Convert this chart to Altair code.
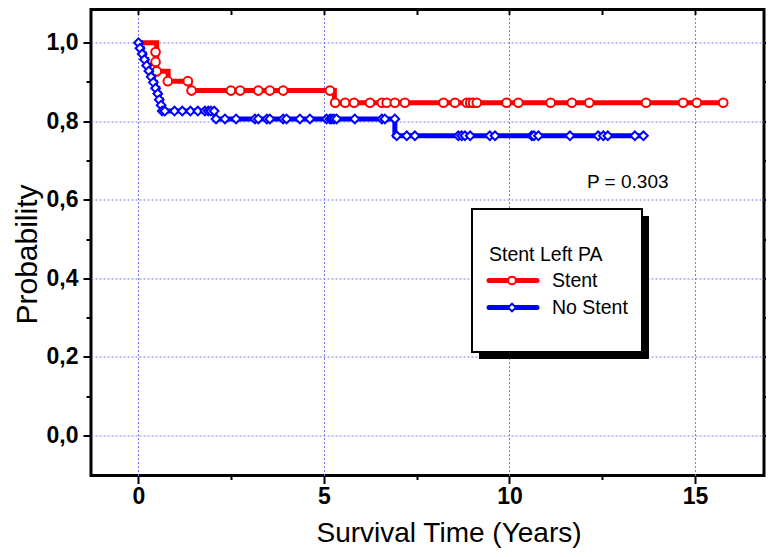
import altair as alt
import pandas as pd

# ---------------- data ----------------
series_names = ["Stent", "No Stent"]
series_colors = ["#ff0000", "#0000ff"]
legend_title = "Stent Left PA"
p_value_text = "P = 0.303"
x_title = "Survival Time (Years)"
y_title = "Probability"

# Kaplan-Meier step vertices (step-after)
stent_step_t = [0.0, 0.49, 0.80, 1.39, 5.28, 15.76]
stent_step_s = [1.0, 0.927, 0.902, 0.878, 0.847, 0.847]

# censor markers (Stent)
stent_mark_t = [0.46, 0.46, 0.49, 0.79, 1.33, 1.43, 2.49, 2.74, 3.23, 3.54, 3.90, 5.16,
                5.30, 5.57, 5.81, 6.24, 6.56, 6.69, 6.91, 7.18, 8.22, 8.53, 8.85, 8.94,
                9.02, 9.12, 9.92, 10.24, 11.11, 11.68, 12.15, 13.68, 14.68, 15.05, 15.76]
stent_mark_s = [0.976, 0.951, 0.927, 0.902, 0.902, 0.878, 0.878, 0.878, 0.878, 0.878, 0.878, 0.878,
                0.847, 0.847, 0.847, 0.847, 0.847, 0.847, 0.847, 0.847, 0.847, 0.847, 0.847, 0.847,
                0.847, 0.847, 0.847, 0.847, 0.847, 0.847, 0.847, 0.847, 0.847, 0.847, 0.847]

nostent_step_t = [0.0, 0.04, 0.10, 0.16, 0.22, 0.28, 0.34, 0.40, 0.46, 0.52, 0.56, 0.61, 0.64,
                  2.06, 6.91, 13.61]
nostent_step_s = [1.0, 0.986, 0.971, 0.957, 0.942, 0.928, 0.913, 0.899, 0.884, 0.870, 0.855,
                  0.841, 0.826, 0.806, 0.763, 0.763]

nostent_mark_t = [0.0, 0.04, 0.10, 0.16, 0.22, 0.28, 0.34, 0.40, 0.46, 0.52, 0.56, 0.61, 0.64,
                  0.71, 0.97, 1.18, 1.40, 1.60, 1.79, 1.88, 1.95, 2.04,
                  2.09, 2.33, 2.63, 3.14, 3.23, 3.46, 3.54, 3.90, 3.99, 4.35, 4.62, 5.07, 5.16,
                  5.21, 5.27, 5.34, 5.83, 6.56, 6.64, 6.91,
                  6.96, 7.23, 7.45, 8.62, 8.71, 8.80, 8.94, 9.47, 9.61, 10.60, 10.66, 10.78,
                  11.63, 12.39, 12.53, 12.65, 13.38, 13.61]
nostent_mark_s = [1.0, 0.986, 0.971, 0.957, 0.942, 0.928, 0.913, 0.899, 0.884, 0.870, 0.855, 0.841, 0.826,
                  0.826, 0.826, 0.826, 0.826, 0.826, 0.826, 0.826, 0.826, 0.826,
                  0.806, 0.806, 0.806, 0.806, 0.806, 0.806, 0.806, 0.806, 0.806, 0.806, 0.806, 0.806, 0.806,
                  0.806, 0.806, 0.806, 0.806, 0.806, 0.806, 0.806,
                  0.763, 0.763, 0.763, 0.763, 0.763, 0.763, 0.763, 0.763, 0.763, 0.763, 0.763, 0.763,
                  0.763, 0.763, 0.763, 0.763, 0.763, 0.763]

x_ticks = [0, 2.5, 5, 7.5, 10, 12.5, 15]
y_ticks = [0.0, 0.1, 0.2, 0.3, 0.4, 0.5, 0.6, 0.7, 0.8, 0.9, 1.0]

# ---------------- build ----------------
stent_line = pd.DataFrame({"t": stent_step_t, "s": stent_step_s})
stent_pts = pd.DataFrame({"t": stent_mark_t, "s": stent_mark_s})
nost_line = pd.DataFrame({"t": nostent_step_t, "s": nostent_step_s})
nost_pts = pd.DataFrame({"t": nostent_mark_t, "s": nostent_mark_s})

PLOT_W, PLOT_H = 673, 466
xs = alt.Scale(domain=[-1.28, 16.86], nice=False, zero=False)
ys = alt.Scale(domain=[-0.102, 1.0845], nice=False, zero=False)

GRID = "#7878ff"
LBL_FONT = "Liberation Sans"
x_major = "datum.value % 5 === 0"
y_major = "round(datum.value * 10) % 2 === 0"

x_axis_main = alt.Axis(
    orient="bottom", values=x_ticks, domain=False,
    labelExpr=f"{x_major} ? format(datum.value, 'd') : ''",
    tickSize={"condition": {"test": x_major, "value": 8}, "value": 4},
    tickWidth=2, tickColor="black",
    grid=True, gridColor=GRID, gridDash=[2, 2], gridWidth=1,
    gridOpacity={"condition": {"test": x_major, "value": 1}, "value": 0},
    labelFont=LBL_FONT, labelFontSize=23, labelFontWeight="bold", labelColor="black",
    labelPadding=2,
    title=x_title, titleFont=LBL_FONT, titleFontSize=28, titleFontWeight="normal",
    titleColor="black", titleX=225, titleY=66, titleAlign="left", titleBaseline="alphabetic",
)
y_axis_main = alt.Axis(
    orient="left", values=y_ticks, domain=False,
    labelExpr=f"{y_major} ? replace(format(datum.value, '.1f'), '.', ',') : ''",
    tickSize={"condition": {"test": y_major, "value": 8}, "value": 5},
    tickWidth=2, tickColor="black",
    grid=True, gridColor=GRID, gridDash=[2, 2], gridWidth=1,
    gridOpacity={"condition": {"test": y_major, "value": 1}, "value": 0},
    labelFont=LBL_FONT, labelFontSize=23, labelFontWeight="bold", labelColor="black",
    labelPadding=5,
    title=y_title, titleFont=LBL_FONT, titleFontSize=30, titleFontWeight="normal",
    titleColor="black", titleX=-55, titleY=244.5, titleAngle=270, titleAlign="center",
    titleBaseline="alphabetic",
)
x_axis_top = alt.Axis(orient="top", values=x_ticks, domain=False, labels=False, grid=False,
                      tickSize=5, tickWidth=2, tickColor="black", offset=-5, title=None)
y_axis_right = alt.Axis(orient="right", values=y_ticks, domain=False, labels=False, grid=False,
                        tickSize=2, tickWidth=2, tickColor="black", title=None)

red_line = alt.Chart(stent_line).mark_line(
    color=series_colors[0], strokeWidth=5, interpolate="step-after"
).encode(x=alt.X("t:Q", scale=xs, axis=x_axis_main), y=alt.Y("s:Q", scale=ys, axis=y_axis_main))

red_pts = alt.Chart(stent_pts).mark_point(
    shape="circle", filled=True, fill="white", stroke=series_colors[0], strokeWidth=2,
    size=75, opacity=1
).encode(x=alt.X("t:Q", scale=xs, axis=x_axis_top), y=alt.Y("s:Q", scale=ys, axis=y_axis_right))

blue_line = alt.Chart(nost_line).mark_line(
    color=series_colors[1], strokeWidth=5, interpolate="step-after"
).encode(x=alt.X("t:Q", scale=xs, axis=None), y=alt.Y("s:Q", scale=ys, axis=None))

blue_pts = alt.Chart(nost_pts).mark_point(
    shape="diamond", filled=True, fill="white", stroke=series_colors[1], strokeWidth=2,
    size=75, opacity=1
).encode(x=alt.X("t:Q", scale=xs, axis=None), y=alt.Y("s:Q", scale=ys, axis=None))

one = pd.DataFrame({"k": [0]})
shadow = alt.Chart(one).mark_rect(fill="black").encode(
    x=alt.value(388), x2=alt.value(558), y=alt.value(206.5), y2=alt.value(349.5))
box = alt.Chart(one).mark_rect(fill="white", stroke="black", strokeWidth=2).encode(
    x=alt.value(381), x2=alt.value(551), y=alt.value(199.5), y2=alt.value(342.5))
ltitle = alt.Chart(pd.DataFrame({"label": [legend_title]})).mark_text(
    align="left", baseline="middle", font=LBL_FONT, fontSize=19.5, color="black"
).encode(x=alt.value(398), y=alt.value(245.5), text="label:N")

legend_layers = []
for i, (name, col, shp) in enumerate(zip(series_names, series_colors, ["circle", "diamond"])):
    yy = 271 + 27 * i
    legend_layers.append(alt.Chart(one).mark_rule(color=col, strokeWidth=5, strokeCap="round").encode(
        x=alt.value(398), x2=alt.value(446), y=alt.value(yy)))
    legend_layers.append(alt.Chart(one).mark_point(
        shape=shp, filled=True, fill="white", stroke=col, strokeWidth=2, size=60, opacity=1
    ).encode(x=alt.value(421), y=alt.value(yy)))
    legend_layers.append(alt.Chart(pd.DataFrame({"label": [name]})).mark_text(
        align="left", baseline="middle", font=LBL_FONT, fontSize=19.5, color="black"
    ).encode(x=alt.value(461), y=alt.value(yy), text="label:N"))

ptext = alt.Chart(pd.DataFrame({"label": [p_value_text]})).mark_text(
    align="left", baseline="alphabetic", font=LBL_FONT, fontSize=19, color="black"
).encode(x=alt.value(496), y=alt.value(178.5), text="label:N")

chart = alt.layer(
    red_line, red_pts, blue_line, blue_pts, shadow, box, ltitle, *legend_layers, ptext
).resolve_axis(x="independent", y="independent").properties(
    width=PLOT_W, height=PLOT_H,
    autosize=alt.AutoSizeParams(type="none"),
    padding={"left": 83, "top": 1.5, "right": 2, "bottom": 73.5},
    background="white",
).configure_view(stroke="black", strokeWidth=3)

chart.save("out.html", embed_options={"renderer": "svg", "actions": False})
